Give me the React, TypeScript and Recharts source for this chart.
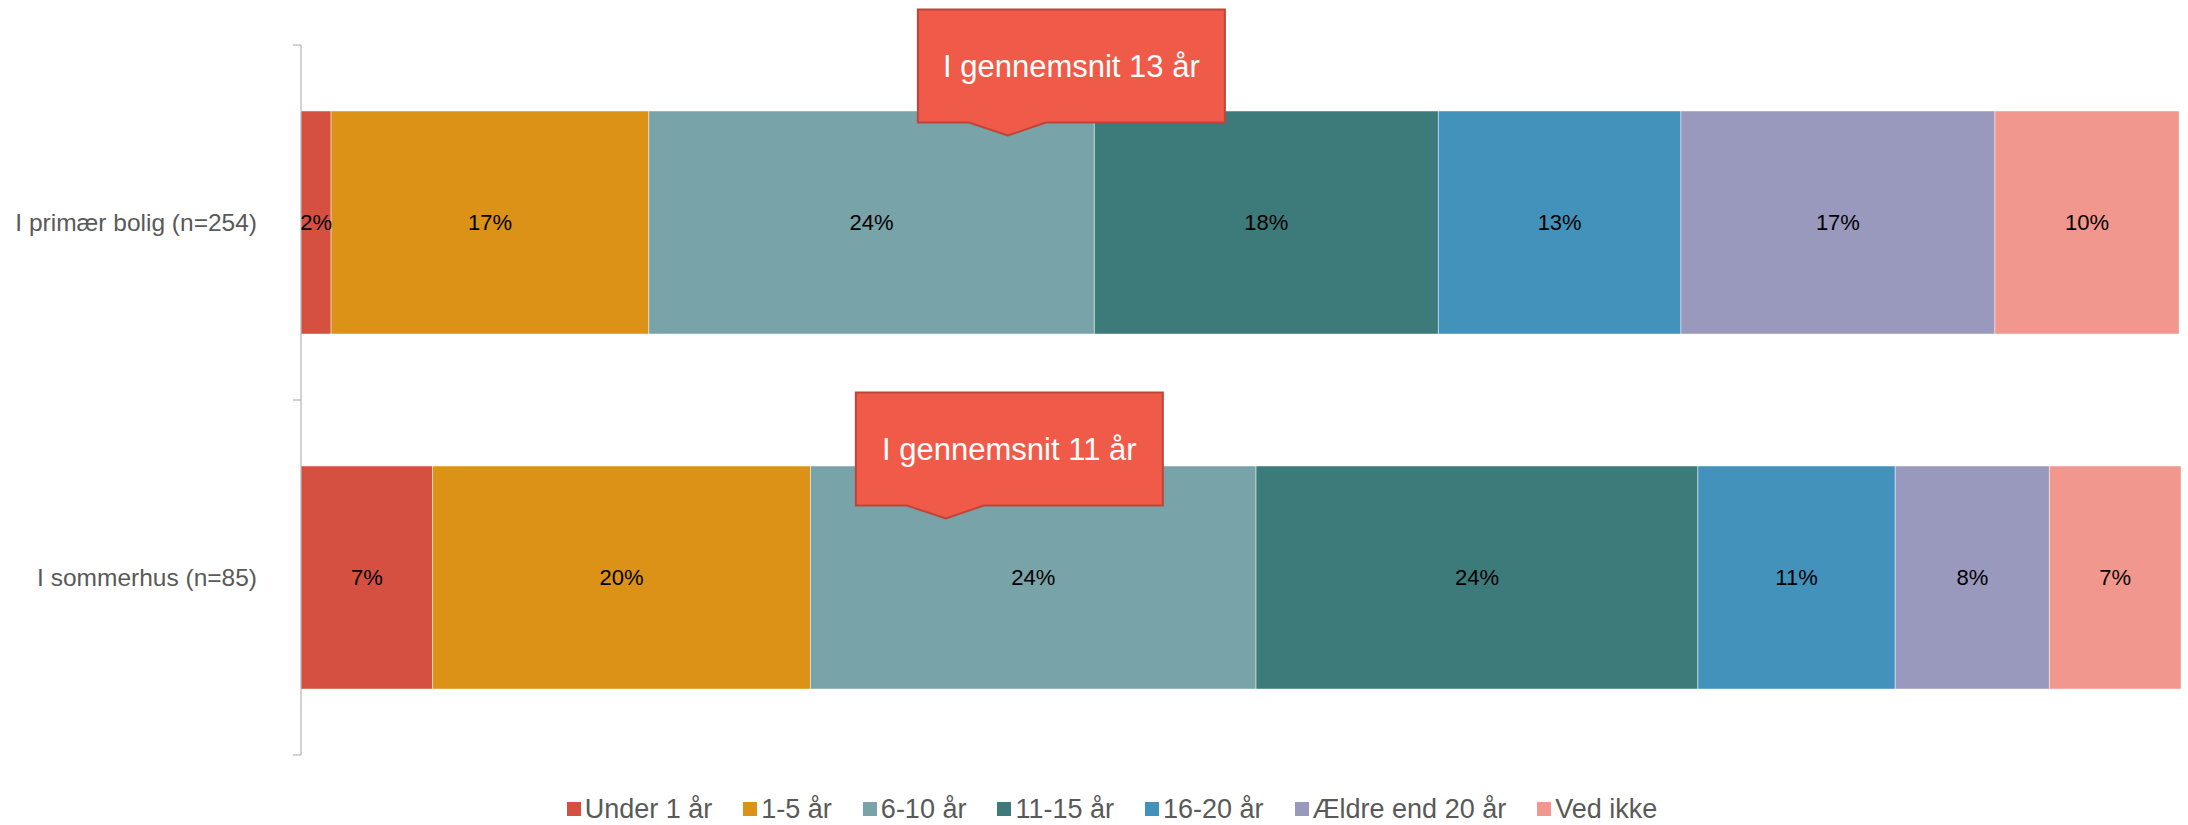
// Stacked horizontal bars: how long respondents have had their home (primary vs summer house).
import { Bar, BarChart, LabelList, ReferenceDot, XAxis, YAxis } from 'recharts'

const categories = ['I primær bolig (n=254)', 'I sommerhus (n=85)']
const seriesNames = ['Under 1 år', '1-5 år', '6-10 år', '11-15 år', '16-20 år', 'Ældre end 20 år', 'Ved ikke']
const primaerValues = [1.6, 16.9, 23.7, 18.3, 12.9, 16.7, 9.8]
const sommerhusValues = [7.0, 20.1, 23.7, 23.5, 10.5, 8.2, 7.0]
const colors = ['#D55040', '#DC9216', '#78A3A8', '#3D7A7A', '#4292BC', '#9999BD', '#F2978E']

// callout text + where its pointer sits on the 0-100 scale
const calloutTexts = ['I gennemsnit 13 år', 'I gennemsnit 11 år']
const calloutAt = [37.6, 34.3]

const FONT = '"Liberation Sans", Arial, sans-serif'
const AXIS_GREY = '#A6A6A6'
const TICK_GAP = 44

const data = categories.map((name, i) => {
  const vals = i === 0 ? primaerValues : sommerhusValues
  const row: Record<string, number | string> = { name }
  vals.forEach((v, k) => (row[`s${k}`] = v))
  return row
})

// pointer tip offset from the bar centre (px) for each callout
const tipOffset = [-87, -59]

function Callout(props: any, idx: number) {
  const { cx, cy } = props
  const tx = cx
  const ty = cy + tipOffset[idx]
  const bottom = ty - 13
  const top = bottom - 113
  const left = tx - 90
  const right = left + 307
  const d = `M${left},${top} L${right},${top} L${right},${bottom} L${tx + 38},${bottom} L${tx},${ty} L${tx - 39},${bottom} L${left},${bottom} Z`
  return (
    <g>
      <path d={d} fill="#EF5B48" stroke="#BF4538" strokeWidth={2} />
      <text
        x={(left + right) / 2}
        y={(top + bottom) / 2}
        textAnchor="middle"
        dominantBaseline="central"
        fill="#fff"
        fontSize={31}
        fontFamily={FONT}
      >
        {calloutTexts[idx]}
      </text>
    </g>
  )
}

// category label plus the small tick marks at the band edges (Excel style)
function CatTick(props: any) {
  const { x, y, payload, index } = props
  const half = payload?.offset ?? 177.5
  const ax = x + TICK_GAP
  return (
    <g>
      <line x1={ax - 8} x2={ax} y1={y - half} y2={y - half} stroke={AXIS_GREY} />
      {index === categories.length - 1 && (
        <line x1={ax - 8} x2={ax} y1={y + half} y2={y + half} stroke={AXIS_GREY} />
      )}
      <text x={x} y={y} textAnchor="end" dominantBaseline="central" fill="#595959" fontSize={24.5} fontFamily={FONT}>
        {payload.value}
      </text>
    </g>
  )
}

export default function App() {
  return (
    <div style={{ position: 'absolute', left: 0, top: 0, width: 2188, height: 825, background: '#fff' }}>
      <BarChart
        width={2188}
        height={825}
        data={data}
        layout="vertical"
        barCategoryGap="18.6%"
        margin={{ top: 45, right: 7, bottom: 70, left: 0 }}
      >
        <XAxis type="number" domain={[0, 100]} hide />
        <YAxis
          type="category"
          dataKey="name"
          width={301}
          axisLine={{ stroke: AXIS_GREY }}
          tickLine={false}
          tickSize={0}
          tickMargin={TICK_GAP}
          tick={CatTick}
        />
        {seriesNames.map((s, k) => (
          <Bar
            key={s}
            dataKey={`s${k}`}
            name={s}
            stackId="a"
            fill={colors[k]}
            stroke="rgba(255,255,255,0.45)"
            strokeWidth={1}
            isAnimationActive={false}
          >
            <LabelList
              dataKey={`s${k}`}
              position="center"
              formatter={(v: any) => `${Math.round(Number(v))}%`}
              fill="#000"
              fontSize={22}
              fontFamily={FONT}
            />
          </Bar>
        ))}
        {categories.map((c, i) => (
          <ReferenceDot
            key={c}
            x={calloutAt[i]}
            y={c}
            ifOverflow="visible"
            shape={(p: any) => Callout(p, i)}
          />
        ))}
      </BarChart>
      <div
        style={{
          position: 'absolute',
          left: 0,
          top: 794,
          width: 2224,
          display: 'flex',
          justifyContent: 'center',
          gap: 31,
          fontFamily: FONT,
          fontSize: 27,
          color: '#595959',
          lineHeight: '30px',
        }}
      >
        {seriesNames.map((s, k) => (
          <div key={s} style={{ display: 'flex', alignItems: 'center' }}>
            <span style={{ width: 14, height: 14, background: colors[k], marginRight: 4, display: 'inline-block' }} />
            <span>{s}</span>
          </div>
        ))}
      </div>
    </div>
  )
}
